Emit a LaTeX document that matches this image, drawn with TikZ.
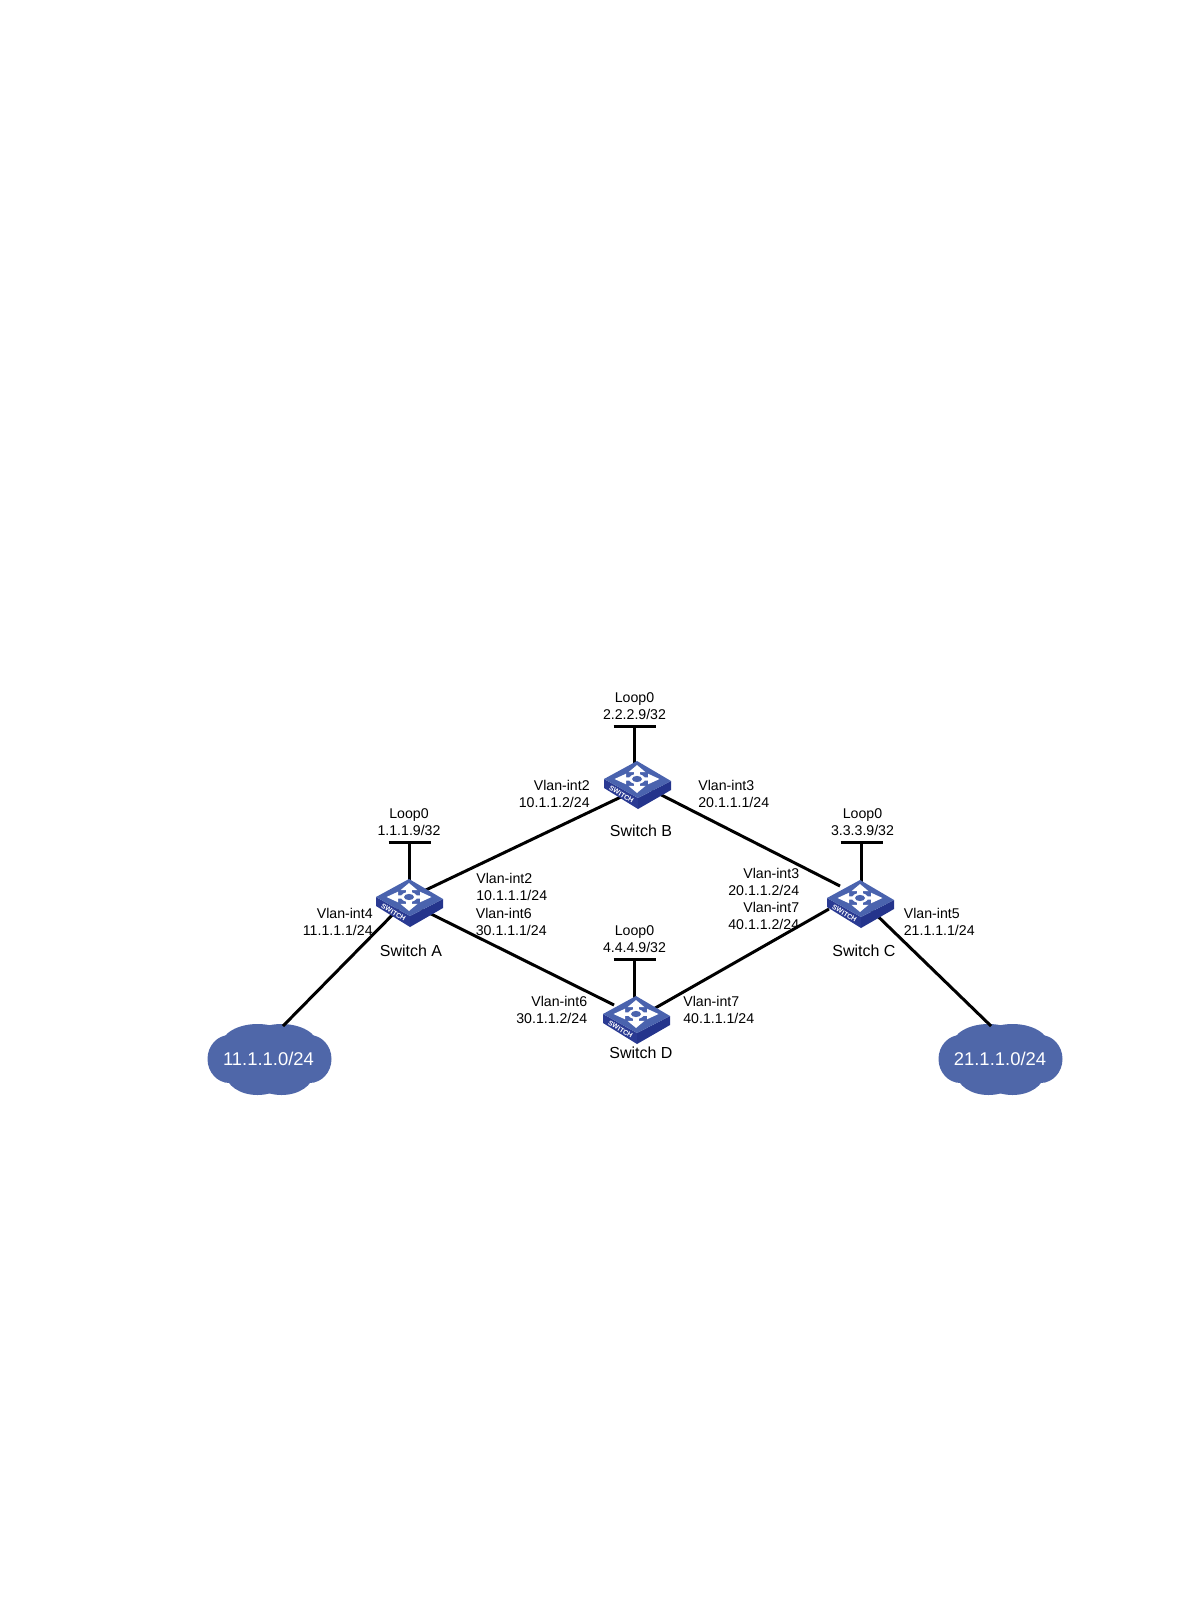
\documentclass[tikz,border=0pt]{standalone}
\usepackage{fontspec}
\setmainfont{Liberation Sans}
\usetikzlibrary{calc}
\definecolor{swtop}{HTML}{4A63AE}
\definecolor{swfront}{HTML}{2A3A93}
\definecolor{swright}{HTML}{24348C}
\definecolor{cloudc}{HTML}{4F67A9}
\tikzset{
  link/.style={line width=1.7pt,black},
  lbl/.style={font=\fontsize{8.05}{9.4}\selectfont,inner sep=0pt,align=center},
  lblr/.style={lbl,align=right,anchor=east},
  lbll/.style={lbl,align=left,anchor=west},
  swname/.style={font=\fontsize{9.1}{10}\selectfont,inner sep=0pt},
  swport/.style={minimum width=38pt,minimum height=28pt,inner sep=0pt},
  cloudtxt/.style={font=\fontsize{10.5}{12}\selectfont,text=white,inner sep=0pt},
  swarrow/.style={fill=white,draw=none},
  pics/switchicon/.style={code={
    \fill[swfront] (-33,-1) -- (-33,8) -- (1,29) -- (1,18) -- cycle;
    \fill[swright] (1,18) -- (1,29) -- (34,10) -- (34,1) -- cycle;
    \fill[swtop] (0,-19) -- (34,1) -- (1,18) -- (-33,-1) -- cycle;
    \foreach \a in {0,90,180,270}{
      \begin{scope}[cm={1,0,0,0.62,(0,-1)},rotate=\a]
        \fill[swarrow] (5,-2.8) -- (11,-2.8) -- (11,-8.5) -- (22.5,0) -- (11,8.5) -- (11,2.8) -- (5,2.8) -- cycle;
      \end{scope}
    }
    \begin{scope}[cm={1,0,0,0.62,(0,-1)}]
      \fill[white] (0,0) circle (8);
      \fill[swtop] (0,0) circle (5);
    \end{scope}
    \node[text=white,inner sep=0pt,font=\fontsize{3.9}{5}\selectfont\bfseries,
          rotate=-31] (tag) at (-15.5,14.5) {SWITCH};
  }},
  pics/cloudshape/.style={code={
    \fill[cloudc] (0,0) ellipse (50 and 24);
    \fill[cloudc] (-40,0) ellipse (22 and 24);
    \fill[cloudc] (40,0) ellipse (22 and 24);
    \fill[cloudc] (-12,-14) ellipse (36 and 21);
    \fill[cloudc] (12,-14) ellipse (36 and 21);
    \fill[cloudc] (-12,14) ellipse (32 and 22);
    \fill[cloudc] (12,14) ellipse (32 and 22);
  }}
}
\begin{document}
\begin{tikzpicture}[x=0.02cm,y=-0.02cm]
\useasboundingbox (0,0) rectangle (1190,1616);
% switch ports
\node[swport] (A) at (409,898) {};
\node[swport] (B) at (637,780) {};
\node[swport] (C) at (860,899) {};
\node[swport] (D) at (636,1015) {};
% clouds
\pic at (269.5,1059) {cloudshape};
\pic at (1000.5,1059) {cloudshape};
\node[cloudtxt] (N1) at (268.5,1059) {11.1.1.0/24};
\node[cloudtxt] (N2) at (1000,1059) {21.1.1.0/24};
% free ends
\coordinate (LA) at (409.5,842);
\coordinate (LB) at (634.5,726);
\coordinate (LC) at (861.5,842);
\coordinate (LD) at (634.5,959);
\coordinate (EA) at (283,1026);
\coordinate (EC) at (991,1026);
% connectors
\draw[link] ([shift={(0,0)}]A.center) -- ([shift={(-14,16)}]B.center);
\draw[link] ([shift={(-5,0)}]B.center) -- ([shift={(-20,-13)}]C.center);
\draw[link] ([shift={(0,5)}]A.center) -- ([shift={(-22,-10)}]D.center);
\draw[link] ([shift={(14,-4)}]D.center) -- ([shift={(-31,10)}]C.center);
\draw[link] (A.center) -- (EA);
\draw[link] (C.center) -- (EC);
\draw[link] (LA) -- (LA |- A.center);
\draw[link] (LB) -- (LB |- B.center);
\draw[link] (LC) -- (LC |- C.center);
\draw[link] (LD) -- (LD |- D.center);
\draw[link] ([shift={(-21,0)}]LA) -- ([shift={(21,0)}]LA);
\draw[link] ([shift={(-21,0)}]LB) -- ([shift={(21,0)}]LB);
\draw[link] ([shift={(-21,0)}]LC) -- ([shift={(21,0)}]LC);
\draw[link] ([shift={(-21,0)}]LD) -- ([shift={(21,0)}]LD);
% icons
\pic (ia) at (409,898) {switchicon};
\pic (ib) at (637,780) {switchicon};
\pic (ic) at (860,899) {switchicon};
\pic (id) at (636,1015) {switchicon};
% names
\node[swname] (nA) at (411,951) {Switch A};
\node[swname] (nB) at (641,831) {Switch B};
\node[swname] (nC) at (864,951) {Switch C};
\node[swname] (nD) at (641,1053) {Switch D};
% labels
\node[lbl] (t1) at (634.5,706) {Loop0\\2.2.2.9/32};
\node[lbl] (t2) at (409,822) {Loop0\\1.1.1.9/32};
\node[lbl] (t3) at (862.5,822) {Loop0\\3.3.3.9/32};
\node[lbl] (t4) at (634.5,939) {Loop0\\4.4.4.9/32};
\node[lblr] (t5) at (590,794) {Vlan-int2\\10.1.1.2/24};
\node[lbll] (t6) at (698,794) {Vlan-int3\\20.1.1.1/24};
\node[lbll] (t7) at (476,887) {Vlan-int2\\10.1.1.1/24};
\node[lbll] (t8) at (475.5,922) {Vlan-int6\\30.1.1.1/24};
\node[lblr] (t9) at (373,922) {Vlan-int4\\11.1.1.1/24};
\node[lblr] (t10) at (799.5,882) {Vlan-int3\\20.1.1.2/24};
\node[lblr] (t11) at (799.5,916) {Vlan-int7\\40.1.1.2/24};
\node[lbll] (t12) at (903.5,922) {Vlan-int5\\21.1.1.1/24};
\node[lblr] (t13) at (587.5,1010) {Vlan-int6\\30.1.1.2/24};
\node[lbll] (t14) at (683,1010) {Vlan-int7\\40.1.1.1/24};
\end{tikzpicture}
\end{document}
